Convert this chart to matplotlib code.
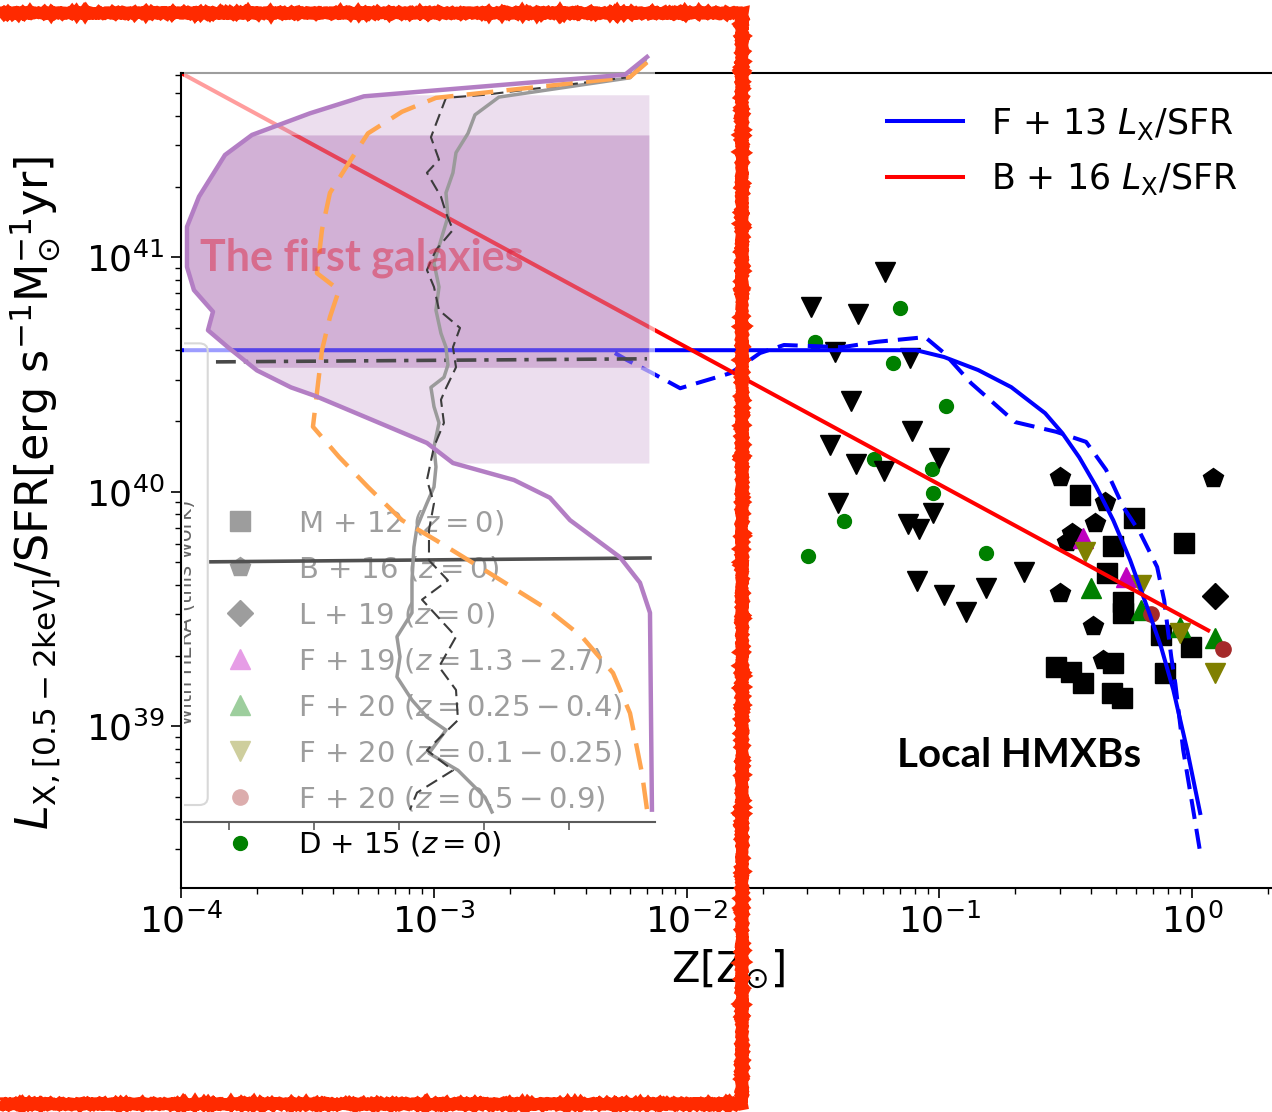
import numpy as np
import matplotlib
matplotlib.use("Agg")
import matplotlib.pyplot as plt
from matplotlib.patches import Rectangle, FancyBboxPatch

# ---------------- main panel: Z [Zsun] vs LX/SFR [erg s^-1 Msun^-1 yr] ----------------
# M+12 (z=0), squares
m12_z = [0.361, 0.590, 0.488, 0.931, 0.461, 0.535, 0.535, 0.755, 0.993, 0.290,
         0.333, 0.371, 0.488, 0.483, 0.530, 0.783]
m12_l = [9.66e39, 7.71e39, 5.86e39, 6.03e39, 4.49e39, 3.38e39, 3.03e39, 2.44e39, 2.17e39, 1.79e39,
         1.70e39, 1.52e39, 1.86e39, 1.38e39, 1.32e39, 1.68e39]
# B+16 (z=0), pentagons
b16_z = [0.301, 0.454, 0.414, 0.336, 0.321, 1.213, 0.301, 0.406, 0.446]
b16_l = [1.15e40, 9.01e39, 7.35e39, 6.66e39, 6.09e39, 1.14e40, 3.69e39, 2.67e39, 1.91e39]
# L+19 (z=0), diamond
l19_z = [1.236]
l19_l = [3.58e39]
# F+19 (z=1.3-2.7)
f19_z = [0.371, 0.550]
f19_l = [6.34e39, 4.32e39]
# F+20 (z=0.25-0.4)
f20a_z = [0.399, 0.629, 0.897, 1.236]
f20a_l = [3.87e39, 3.13e39, 2.64e39, 2.37e39]
# F+20 (z=0.1-0.25)
f20b_z = [0.378, 0.629, 0.897, 1.236]
f20b_l = [5.52e39, 3.99e39, 2.49e39, 1.68e39]
# F+20 (z=0.5-0.9)
f20c_z = [0.690, 1.328]
f20c_l = [3.01e39, 2.13e39]
# D+15 (z=0)
d15_z = [0.0700, 0.0323, 0.0658, 0.1064, 0.0552, 0.0938, 0.0946, 0.0421, 0.0303, 0.1535]
d15_l = [6.07e40, 4.35e40, 3.53e40, 2.32e40, 1.38e40, 1.25e40, 9.86e39, 7.48e39, 5.31e39, 5.47e39]
# local HMXB upper limits, black down triangles
ul_z = [0.0611, 0.0311, 0.0478, 0.0387, 0.0767, 0.0448, 0.0782, 0.0370, 0.0469, 0.0605,
        0.100, 0.0398, 0.0946, 0.0754, 0.0832, 0.0819, 0.1045, 0.1276, 0.217, 0.1535]
ul_l = [8.63e40, 6.12e40, 5.71e40, 3.94e40, 3.71e40, 2.43e40, 1.81e40, 1.58e40, 1.31e40, 1.22e40,
        1.39e40, 8.93e39, 8.10e39, 7.26e39, 6.92e39, 4.15e39, 3.62e39, 3.06e39, 4.54e39, 3.87e39]

# F+13 relation (solid) and its dashed variant
f13_z = [1e-4, 0.0811, 0.1045, 0.1426, 0.1927, 0.2624, 0.3064, 0.358, 0.418, 0.488,
         0.569, 0.665, 0.755, 0.843, 0.957, 1.077]
f13_l = [4.01e40, 4.01e40, 3.75e40, 3.30e40, 2.79e40, 2.16e40, 1.78e40, 1.40e40, 1.05e40, 7.55e39,
         5.11e39, 3.21e39, 2.17e39, 1.43e39, 7.91e38, 4.26e38]
f13d_z = [0.00521, 0.00582, 0.00718, 0.00944, 0.01133, 0.01490, 0.01738, 0.01954, 0.0243, 0.0413,
          0.0562, 0.0879, 0.1045, 0.1337, 0.1995, 0.290, 0.381, 0.457, 0.535, 0.624,
          0.728, 0.776, 0.828, 0.859, 0.923, 1.011, 1.077]
f13d_l = [3.90e40, 3.64e40, 3.24e40, 2.76e40, 2.93e40, 3.20e40, 3.57e40, 3.90e40, 4.22e40, 4.13e40,
          4.35e40, 4.56e40, 3.90e40, 2.90e40, 1.98e40, 1.80e40, 1.63e40, 1.24e40, 8.59e39, 6.66e39,
          4.77e39, 3.44e39, 1.97e39, 1.52e39, 7.91e38, 4.39e38, 2.90e38]
# B+16 relation
b16r_z = [1e-4, 1.159]
b16r_l = [6.1e41, 2.56e39]

# ---------------- pasted panel (its own axis units) ----------------
purple_x = [4.918, 4.659, 1.588, 0.953, 0.271, -0.047, -0.353, -0.494, -0.494, -0.412,
            -0.188, -0.247, -0.012, 0.329, 0.729, 1.012, 2.329, 2.635, 3.353, 3.776,
            4.012, 4.600, 4.835, 4.953, 4.976]
purple_y = [9.91, 9.68, 9.40, 9.18, 8.90, 8.64, 8.10, 7.71, 7.19, 6.89,
            6.61, 6.37, 6.15, 5.85, 5.63, 5.52, 4.91, 4.65, 4.43, 4.20,
            3.91, 3.43, 3.10, 2.71, 0.16]
orange_x = [4.918, 4.718, 2.435, 2.035, 1.635, 1.412, 1.188, 1.094, 1.035, 1.294,
            1.188, 1.094, 1.035, 0.988, 1.294, 1.635, 2.035, 2.435, 3.012, 3.753,
            4.153, 4.518, 4.718, 4.859, 4.918]
orange_y = [9.84, 9.65, 9.38, 9.20, 8.92, 8.54, 8.15, 7.67, 7.11, 6.89,
            6.54, 6.11, 5.56, 5.12, 4.73, 4.34, 3.91, 3.65, 3.26, 2.75,
            2.40, 1.93, 1.41, 0.63, 0.16]
grey_x = [4.894, 4.718, 3.176, 2.894, 2.812, 2.671, 2.635, 2.553, 2.576, 2.494,
          2.412, 2.471, 2.435, 2.494, 2.553, 2.576, 2.529, 2.376, 2.412, 2.471,
          2.412, 2.435, 2.412, 2.329, 2.212, 2.176, 2.153, 2.153, 1.976, 2.012,
          1.976, 2.153, 2.329, 2.553, 2.353, 2.694, 3.012, 3.094]
grey_y = [9.87, 9.64, 9.39, 9.16, 8.92, 8.67, 8.41, 8.15, 7.84, 7.54,
          7.24, 6.93, 6.63, 6.33, 6.15, 5.92, 5.76, 5.63, 5.38, 5.17,
          4.86, 4.60, 4.34, 4.13, 3.82, 3.56, 3.13, 2.71, 2.40, 2.14,
          1.88, 1.58, 1.36, 1.19, 0.89, 0.67, 0.32, 0.13]
kdash_x = [4.918, 4.718, 3.012, 2.553, 2.376, 2.471, 2.329, 2.494, 2.553, 2.635,
           2.435, 2.329, 2.412, 2.471, 2.718, 2.635, 2.671, 2.553, 2.494, 2.529,
           2.412, 2.329, 2.412, 2.353, 2.353, 2.576, 2.271, 2.671, 2.471, 2.671,
           2.694, 2.329, 2.635, 2.212, 2.129]
kdash_y = [9.84, 9.65, 9.42, 9.38, 8.87, 8.58, 8.41, 8.10, 7.89, 7.67,
           7.41, 7.15, 6.93, 6.63, 6.40, 6.15, 5.89, 5.62, 5.47, 5.17,
           4.86, 4.43, 4.13, 3.78, 3.39, 3.13, 2.88, 2.40, 2.01, 1.71,
           1.32, 0.93, 0.67, 0.38, 0.16]
dashdot_x = [-0.153, 4.918]
dashdot_y = [5.96, 6.00]
hline_x = [-0.212, 4.953]
hline_y = [3.37, 3.42]
light_band = (4.65, 9.42)
dark_band = (5.89, 8.90)
band_right = 4.94

fig = plt.figure(figsize=(12.72, 11.12), dpi=100)
ax = fig.add_axes([181 / 1272, 224 / 1112, 1094 / 1272, 815 / 1112])
ax.set_xscale('log')
ax.set_yscale('log')

ax.plot(d15_z, d15_l, 'o', color='green', ms=10, ls='none', label=r'D + 15 $(z = 0)$')
ax.plot(ul_z, ul_l, 'v', color='black', ms=14, ls='none')
ax.plot(m12_z, m12_l, 's', color='black', ms=15, ls='none', label=r'M + 12 $(z = 0)$')
ax.plot(b16_z, b16_l, 'p', color='black', ms=15, ls='none', label=r'B + 16 $(z = 0)$')
ax.plot(l19_z, l19_l, 'D', color='black', ms=13, ls='none', label=r'L + 19 $(z = 0)$')
ax.plot(f19_z, f19_l, '^', color='m', ms=14, ls='none', label=r'F + 19 $(z = 1.3 - 2.7)$')
ax.plot(f20a_z, f20a_l, '^', color='green', ms=15, ls='none', label=r'F + 20 $(z = 0.25 - 0.4)$')
ax.plot(f20b_z, f20b_l, 'v', color='olive', ms=15, ls='none', label=r'F + 20 $(z = 0.1 - 0.25)$')
ax.plot(f20c_z, f20c_l, 'o', color='brown', ms=11, ls='none', label=r'F + 20 $(z = 0.5 - 0.9)$')

l_f13, = ax.plot(f13_z, f13_l, color='blue', lw=2.9, label=r'F + 13 $L_{\rm X}$/SFR')
ax.plot(f13d_z, f13d_l, color='blue', lw=2.9, ls=(0, (5, 2.5)))
l_b16, = ax.plot(b16r_z, b16r_l, color='red', lw=2.9, label=r'B + 16 $L_{\rm X}$/SFR')

ax.set_xlim(1e-4, 2.13)
ax.set_ylim(2.04e38, 6.1e41)
ax.spines['right'].set_visible(False)
for s in ['left', 'bottom', 'top']:
    ax.spines[s].set_linewidth(1.5)
ax.tick_params(which='major', length=7, width=1.2, labelsize=26, pad=5)
ax.tick_params(which='minor', length=4.5, width=1.0)
ax.tick_params(axis='x', pad=4)
ax.set_xlabel(r'Z[Z$_{\odot}$]', fontsize=30, labelpad=6)
ax.set_ylabel(r'$L_{\rm X,[0.5-2keV]}$/SFR[erg s$^{-1}$M$_{\odot}^{-1}$yr]', fontsize=32)
ax.yaxis.set_label_coords(-0.108, 0.485)

leg1 = ax.legend(handles=[l_f13, l_b16], loc='upper left', bbox_to_anchor=(0.6453, 0.960),
                 frameon=False, fontsize=25, handlelength=2.2, handletextpad=0.8,
                 labelspacing=0.56, borderpad=0, borderaxespad=0)
ax.add_artist(leg1)
h, lab = ax.get_legend_handles_labels()
order = [r'M + 12 $(z = 0)$', r'B + 16 $(z = 0)$', r'L + 19 $(z = 0)$', r'F + 19 $(z = 1.3 - 2.7)$',
         r'F + 20 $(z = 0.25 - 0.4)$', r'F + 20 $(z = 0.1 - 0.25)$', r'F + 20 $(z = 0.5 - 0.9)$',
         r'D + 15 $(z = 0)$']
hh = [h[lab.index(o)] for o in order]
ax.legend(handles=hh, labels=order, loc='upper left', bbox_to_anchor=(0.027, 0.4656),
          frameon=False, fontsize=21, handletextpad=1.0, labelspacing=0.58,
          borderpad=0, borderaxespad=0)

ax.text(0.068, 7.5e38, 'Local HMXBs', fontsize=29, fontweight='bold', family='Lato',
        ha='left', va='center')

# ---------------- pasted panel on top ----------------
ins = fig.add_axes([184 / 1272, 290 / 1112, 471 / 1272, 772 / 1112])
ins.patch.set_facecolor('white')
ins.patch.set_alpha(0.62)
for s in ['left', 'top', 'right']:
    ins.spines[s].set_visible(False)
ins.spines['bottom'].set_color('#5a5a5a')
ins.spines['bottom'].set_linewidth(1.5)
ins.set_xticks([0, 1, 2, 3, 4])
ins.set_yticks([])
ins.tick_params(axis='x', length=6, width=1.2, color='#5a5a5a', labelbottom=False)

px = np.array(purple_x)[::-1]
py = np.array(purple_y)[::-1]
yy = np.linspace(light_band[0], light_band[1], 300)
ins.fill_betweenx(yy, np.interp(yy, py, px), band_right, color='#a05aaa', alpha=0.2, lw=0)
yy = np.linspace(dark_band[0], dark_band[1], 300)
dark = ins.fill_betweenx(yy, np.interp(yy, py, px), band_right, color='#a05aaa', alpha=0.34, lw=0)

# main-panel lines show through the dark band more strongly
clip = dark.get_paths()[0]
for zz, ll, st in [(b16r_z, b16r_l, '-'), (f13_z, f13_l, '-'), (f13d_z, f13d_l, (0, (5, 2.5)))]:
    c = 'red' if zz is b16r_z else 'blue'
    ln, = ins.plot(zz, ll, color=c, lw=2.9, ls=st, alpha=0.45, transform=ax.transData)
    ln.set_clip_path(clip, ins.transData)

ins.add_patch(FancyBboxPatch((-1.2, 0.22), 0.95, 5.98, boxstyle='round,pad=0,rounding_size=0.1',
                             fc='none', ec='#d8d8d8', lw=1.5))
ins.text(-0.506, 2.72, 'with HERA (this work)', rotation=90, fontsize=15, color='#666666',
         ha='center', va='center', clip_on=True)

ins.plot(hline_x, hline_y, color='#505050', lw=2.6)
ins.plot(dashdot_x, dashdot_y, color='#484848', lw=2.6, ls=(0, (5.5, 2.2, 1.2, 2.2)))
ins.plot(grey_x, grey_y, color='#9a9a9a', lw=2.5)
ins.plot(kdash_x, kdash_y, color='#3c3c3c', lw=1.5, ls=(0, (6, 3)))
ins.plot(orange_x, orange_y, color='#ffa550', lw=3.2, ls=(0, (6, 3)))
ins.plot(purple_x, purple_y, color='#b37ec4', lw=3.2)

ins.text(-0.341, 7.31, 'The first galaxies', fontsize=31, fontweight='bold', family='Lato',
         color='#dc2846', alpha=0.5, ha='left', va='center')

ins.set_xlim(-0.529, 5.012)
ins.set_ylim(0, 10)

# hand-drawn red frame
frame = Rectangle((-2 / 1272, 8 / 1112), 744 / 1272, 1091 / 1112, transform=fig.transFigure,
                  fill=False, ec='#ff2a00', lw=8.5, zorder=10)
frame.set_sketch_params(scale=0.8, length=4, randomness=3)
fig.add_artist(frame)

fig.savefig('out.png', dpi=100)
